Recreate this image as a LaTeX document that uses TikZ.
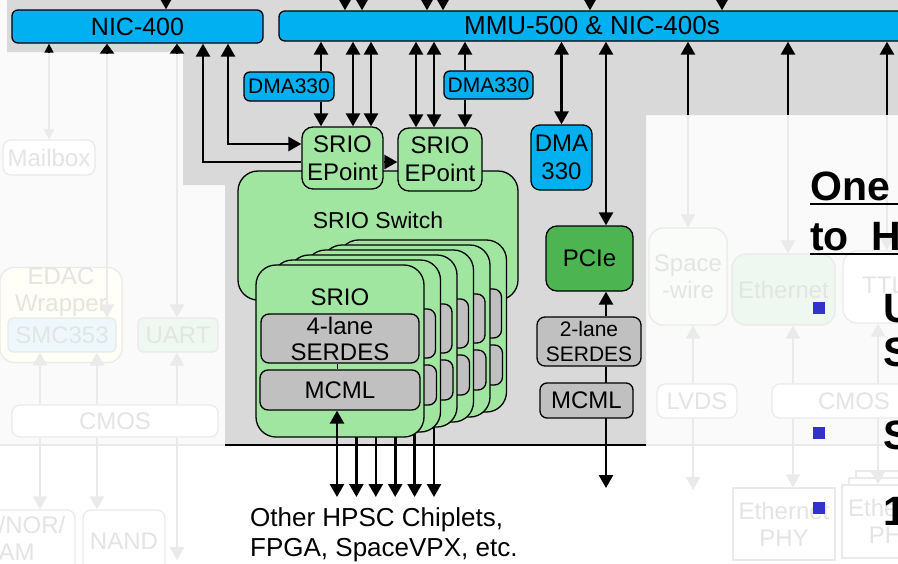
\documentclass[tikz,border=0pt]{standalone}
\usepackage{fontspec}
\setmainfont{Liberation Sans}
\usetikzlibrary{arrows.meta}
\definecolor{bggrey}{HTML}{D9D9D9}
\definecolor{fadebg}{HTML}{FAFAFA}
\definecolor{nicblue}{HTML}{00B0F0}
\definecolor{sriogreen}{HTML}{A0E6A0}
\definecolor{pciegreen}{HTML}{4CB450}
\definecolor{serdesgrey}{HTML}{C0C0C0}
\definecolor{bulletblue}{HTML}{3333CC}
\definecolor{fadeline}{HTML}{EAEAEA}
\definecolor{fadetext}{HTML}{E4E4E4}
\definecolor{fadeyellow}{HTML}{FFFFF8}
\definecolor{fadeblue}{HTML}{EEF8FC}
\definecolor{fadegreen}{HTML}{EFF8F0}

\begin{document}
\begin{tikzpicture}[x=1pt,y=-1pt,
  box/.style={draw, line width=1.3pt, rounded corners=6pt, inner sep=0pt, align=center,
    font=\fontsize{24}{28}\selectfont},
  cyanbox/.style={box, fill=nicblue},
  greenbox/.style={box, fill=sriogreen, rounded corners=11pt},
  greybox/.style={box, fill=serdesgrey, font=\fontsize{24}{26}\selectfont},
  card/.style={box, fill=sriogreen, rounded corners=20pt, minimum width=168pt, minimum height=172pt},
  fadebox/.style={draw=fadeline, line width=1.3pt, rounded corners=8pt, inner sep=0pt, align=center,
    text=fadetext, font=\fontsize{24}{27}\selectfont},
  fadetxt/.style={text=fadetext, inner sep=0pt, align=left, font=\fontsize{24}{27}\selectfont},
  arr/.style={line width=2.6pt, -{Triangle[length=13pt,width=14pt]}},
  dbl/.style={line width=2.6pt, {Triangle[length=13pt,width=14pt]}-{Triangle[length=13pt,width=14pt]}},
  fadearr/.style={color=fadeline, line width=2.6pt, -{Triangle[length=13pt,width=14pt]}},
  bigtext/.style={inner sep=0pt, anchor=base west, font=\fontsize{41}{45}\bfseries}
  ]
\useasboundingbox (0,0) rectangle (898,563);
\clip (0,0) rectangle (898,563);

% backgrounds
\fill[white] (0,0) rectangle (898,563);
\fill[fadebg] (0,0) rectangle (898,445);
\fill[bggrey] (7,0) -- (898,0) -- (898,115) -- (646,115) -- (646,445) -- (225,445)
  -- (225,185) -- (183,185) -- (183,52) -- (7,52) -- cycle;
\draw[fadeline, line width=1.5pt] (0,445) -- (898,445);
\draw[line width=2pt] (225,445) -- (646,445);

\coordinate (top) at (0,-2);
\coordinate (fadetop) at (0,53);
\coordinate (paneltop) at (0,115);
\coordinate (rightedge) at (898,0);

% faded blocks on the left
\node[fadebox, fill=white, minimum width=92pt, minimum height=35pt] (mailbox) at (49,157.5) {Mailbox};
\node[fadebox, fill=fadeyellow, rounded corners=14pt, minimum width=122pt, minimum height=95pt] (edac) at (61,315) {};
\node[fadetxt, align=center] (edactext) at (61,292) {EDAC\\Wrapper};
\node[fadebox, fill=fadeblue, rounded corners=5pt, minimum width=108pt, minimum height=34pt] (smc) at (62,335) {SMC353};
\node[fadebox, fill=fadegreen, rounded corners=5pt, minimum width=80pt, minimum height=34pt] (uart) at (178,335) {UART};
\node[fadebox, fill=white, minimum width=206pt, minimum height=32pt] (cmosl) at (115,421) {CMOS};
\node[fadebox, fill=white, minimum width=95pt, minimum height=62pt] (nor) at (27.5,541) {};
\node[fadetxt] (nortext) at (32,538) {/NOR/\\AM};
\node[fadebox, fill=white, minimum width=82pt, minimum height=62pt] (nand) at (124,541) {NAND};
\coordinate (uartout) at (177,560);

\draw[color=fadeline, line width=1.8pt, -{Triangle[length=10pt,width=10pt]}]
  (fadetop -| mailbox.north) -- (mailbox.north);
\draw[fadearr] (fadetop -| 107,0) -- (smc.north -| 107,0);
\draw[fadearr] (fadetop -| uartout) -- (uart.north -| uartout);
\foreach \x in {40,97} {
  \draw[fadearr] (cmosl.north -| \x,0) -- (smc.south -| \x,0);
}
\draw[fadearr] (cmosl.south -| 40,0) -- (nor.north -| 40,0);
\draw[fadearr] (cmosl.south -| 97,0) -- (nand.north -| 97,0);
\draw[fadearr] (cmosl.north -| uartout) -- (uart.south -| uartout);
\draw[fadearr] (cmosl.south -| uartout) -- (uartout);

% faded blocks on the right
\node[fadebox, fill=fadegreen!40, rounded corners=14pt, minimum width=78pt, minimum height=97pt] (spw) at (688,276.5) {Space\\-wire};
\node[fadebox, fill=fadegreen, rounded corners=14pt, minimum width=103pt, minimum height=71pt] (eth) at (783.5,289.5) {Ethernet};
\node[fadebox, fill=white, rounded corners=14pt, minimum width=107pt, minimum height=72pt] (ttl) at (896.5,287) {};
\node[fadetxt, anchor=west] (ttltext) at (862,285) {TTL};
\node[fadebox, fill=white, minimum width=80pt, minimum height=34pt] (lvds) at (697,401) {LVDS};
\node[fadebox, fill=white, minimum width=164pt, minimum height=34pt] (cmosr) at (854,401) {CMOS};
\node[fadebox, fill=white, rounded corners=0pt, minimum width=102pt, minimum height=72pt] (ephy) at (784,524) {Ethernet\\PHY};
\foreach \k in {2,1}
  \node[fadebox, fill=white, rounded corners=0pt, minimum width=103pt, minimum height=73pt] (phyback\k) at (893.5+7*\k,521.5-7*\k) {};
\node[fadebox, fill=white, rounded corners=0pt, minimum width=103pt, minimum height=73pt] (phy) at (893.5,521.5) {Ethernet\\PHY};
\coordinate (lvdsout) at (693,490);

\draw[fadearr] (paneltop -| spw.north) -- (spw.north);
\draw[fadearr] (paneltop -| 788,0) -- (eth.north -| 788,0);
\draw[fadearr] (paneltop -| 887,0) -- (ttl.north -| 887,0);
\draw[fadearr] (lvds.north -| lvdsout) -- (spw.south -| lvdsout);
\draw[fadearr] (lvds.south -| lvdsout) -- (lvdsout);
\draw[fadearr] (cmosr.north -| 793,0) -- (eth.south -| 793,0);
\draw[fadearr] (cmosr.south -| 793,0) -- (ephy.north -| 793,0);
\draw[fadearr] (cmosr.north -| 878,0) -- (ttl.south -| 878,0);
\draw[fadearr] (cmosr.south -| 878,0) -- (phy.north -| 878,0);

% interconnect
\node[cyanbox, minimum width=251pt, minimum height=33pt, font=\fontsize{25}{28}\selectfont] (nic) at (137.5,26.5) {NIC-400};
\node[cyanbox, minimum width=626pt, minimum height=30pt, font=\fontsize{26}{28}\selectfont] (mmu) at (592,26) {MMU-500 \& NIC-400s};

\draw[arr] (top -| 166,0) -- (nic.north -| 166,0);
\foreach \x in {345,362,427,443,590,722}
  \draw[arr] (top -| \x,0) -- (mmu.north -| \x,0);

\draw[line width=1.6pt, -{Triangle[length=9pt,width=9pt]}] (fadetop -| mailbox.north) -- (nic.south -| mailbox.north);
\draw[line width=2.6pt, -{Triangle[length=10pt,width=14pt]}] (fadetop -| 107,0) -- (nic.south -| 107,0);
\draw[line width=2.6pt, -{Triangle[length=10pt,width=14pt]}] (fadetop -| uartout) -- (nic.south -| uartout);

\draw[arr] (paneltop -| spw.north) -- (mmu.south -| spw.north);
\draw[arr] (paneltop -| 788,0) -- (mmu.south -| 788,0);
\draw[arr] (paneltop -| 887,0) -- (mmu.south -| 887,0);

% DMA engines and PCIe
\node[cyanbox, minimum width=90pt, minimum height=29pt, font=\fontsize{21}{24}\selectfont] (dmaa) at (289,86.5) {DMA330};
\node[cyanbox, minimum width=89pt, minimum height=28pt, font=\fontsize{21}{24}\selectfont] (dmab) at (488.5,85) {DMA330};
\node[cyanbox, rounded corners=9pt, minimum width=61pt, minimum height=65pt, font=\fontsize{24}{28}\selectfont] (dmac) at (561.5,157.5) {DMA\\330};
\node[box, fill=pciegreen, rounded corners=11pt, minimum width=87pt, minimum height=65pt] (pcie) at (589.5,258.5) {PCIe};
\node[greybox, rounded corners=8pt, minimum width=104pt, minimum height=49pt, font=\fontsize{21}{25}\selectfont] (serd) at (589,341.5) {2-lane\\SERDES};
\coordinate (pcieout) at (606,488);
\draw[arr] (serd.south -| pcieout) -- (pcieout);
\node[greybox, rounded corners=7pt, minimum width=93pt, minimum height=35pt] (mcmlr) at (586.5,400.5) {MCML};
\draw[arr] (serd.north -| pcieout) -- (pcie.south -| pcieout);
\draw[dbl] (mmu.south -| dmac.north) -- (dmac.north);
\draw[dbl] (mmu.south -| pcieout) -- (pcie.north -| pcieout);

% SRIO switch and end points
\node[greenbox, rounded corners=20pt, minimum width=280pt, minimum height=129pt] (switch) at (378,235.5) {};
\node[inner sep=0pt, font=\fontsize{23}{26}\selectfont] (switchtext) at (378,220) {SRIO Switch};
\node[greenbox, minimum width=81pt, minimum height=62pt] (epa) at (342.5,158) {SRIO\\EPoint};
\node[greenbox, minimum width=84pt, minimum height=63pt] (epb) at (440,159.5) {SRIO\\EPoint};

% NIC-400 to the end points
\draw[dbl] (nic.south -| 228,0) |- (epa.west |- 0,144);
\draw[line width=2.6pt, {Triangle[length=13pt,width=14pt]}-] (nic.south -| 203,0) |- (epa.west |- 0,162);
\draw[arr] (epa.east |- 0,162) -- (epb.west |- 0,162);

\draw[arr] (dmaa.north -| 321,0) -- (mmu.south -| 321,0);
\draw[arr] (dmaa.south -| 321,0) -- (epa.north -| 321,0);
\draw[arr] (dmab.north -| 465,0) -- (mmu.south -| 465,0);
\draw[arr] (dmab.south -| 465,0) -- (epb.north -| 465,0);
\foreach \x in {353,371}
  \draw[dbl] (mmu.south -| \x,0) -- (epa.north -| \x,0);
\foreach \x in {416,434}
  \draw[dbl] (mmu.south -| \x,0) -- (epb.north -| \x,0);

% stack of SRIO ports, back to front
\foreach \i in {5,4,...,1} {
  \node[card] (card\i) at (340+16.5*\i,351-5*\i) {};
  \node[greybox, rounded corners=8pt, minimum width=158pt, minimum height=49pt] (serdes\i) at ([yshift=12.5pt]card\i.center) {};
  \node[greybox, rounded corners=8pt, minimum width=160pt, minimum height=40pt] (mcml\i) at ([yshift=-39pt]card\i.center) {};
  \coordinate (out\i) at (337+19.4*\i,497);
  \draw[dbl] (mcml\i.south -| out\i) -- (out\i);
}
\node[card] (card0) at (340,351) {};
\node[inner sep=0pt, font=\fontsize{24}{28}\selectfont] (srio0) at ([yshift=54pt]card0.center) {SRIO};
\node[greybox, rounded corners=8pt, minimum width=158pt, minimum height=49pt] (serdes0) at ([yshift=12.5pt]card0.center) {4-lane\\SERDES};
\node[greybox, rounded corners=8pt, minimum width=160pt, minimum height=40pt] (mcml0) at ([yshift=-39pt]card0.center) {MCML};
\draw[line width=1pt] ([xshift=-3pt]serdes0.south) -- ([xshift=-3pt]mcml0.north);
\coordinate (out0) at (337,497);
\draw[dbl] (mcml0.south -| out0) -- (out0);

\node[anchor=north west, inner sep=0pt, align=left, font=\fontsize{26}{30}\selectfont] (others) at (250,507)
  {Other HPSC Chiplets,\\FPGA, SpaceVPX, etc.};

% slide text on the right
\node[bigtext] (title1) at (810,200) {One};
\node[bigtext] (title2) at (810,250) {to\ \ H};
\draw[line width=2pt] ([yshift=-4pt]title1.base west) -- ([yshift=-4pt]title1.base west -| rightedge);
\draw[line width=2pt] ([yshift=-4pt]title2.base west) -- ([yshift=-4pt]title2.base west -| rightedge);
\node[fill=bulletblue, minimum size=12pt, inner sep=0pt] (bul1) at (819,308) {};
\node[fill=bulletblue, minimum size=12pt, inner sep=0pt] (bul2) at (819,433) {};
\node[fill=bulletblue, minimum size=12pt, inner sep=0pt] (bul3) at (819,508) {};
\node[bigtext] (item1) at (883,322) {U};
\node[bigtext] (item1b) at (883,366) {S};
\node[bigtext] (item2) at (883,449) {S};
\node[bigtext] (item3) at (883,525) {1};
\end{tikzpicture}
\end{document}
